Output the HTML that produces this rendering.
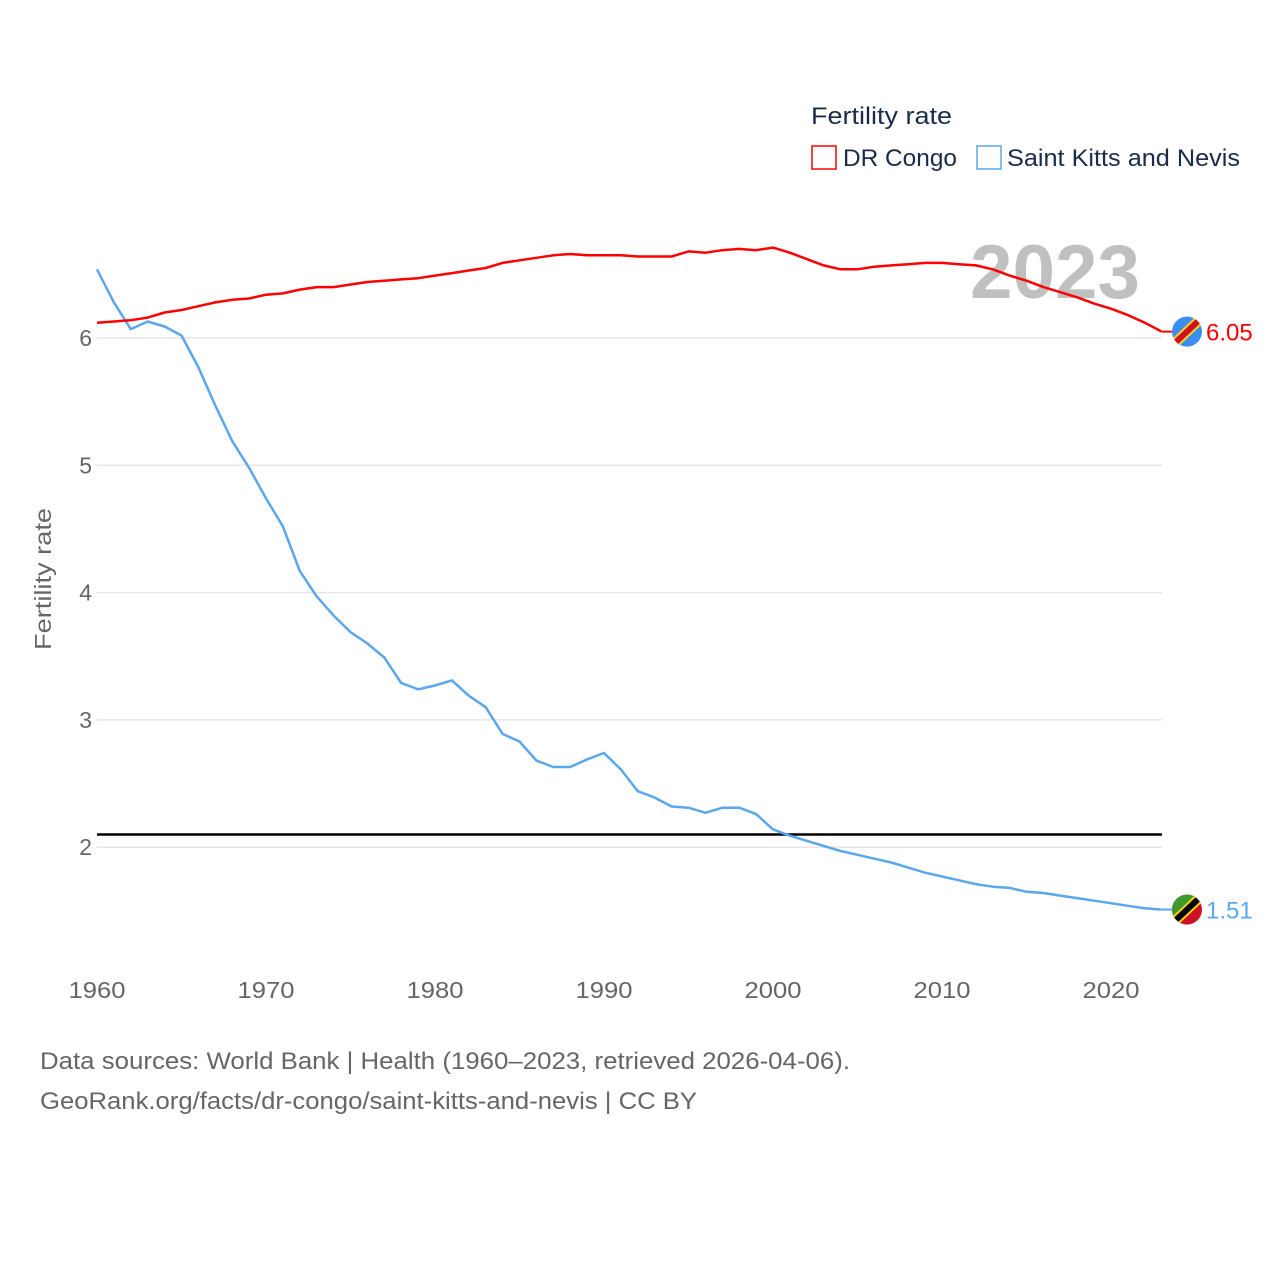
<!DOCTYPE html>
<html><head><meta charset="utf-8">
<style>
body{margin:0;background:#fff;font-family:"Liberation Sans",sans-serif;}
svg text{font-family:"Liberation Sans",sans-serif;}
</style></head>
<body>
<svg id="chart" width="1280" height="1280" viewBox="0 0 1280 1280" xmlns="http://www.w3.org/2000/svg">
<rect width="1280" height="1280" fill="#fff"/>
<g id="grid"></g>
<g id="yticks"></g>
<g id="xticks"></g>
<text x="1140" y="298" text-anchor="end" font-size="76" font-weight="bold" fill="#c0c0c0" textLength="170" lengthAdjust="spacingAndGlyphs">2023</text>
<text transform="translate(51,579) rotate(-90)" text-anchor="middle" font-size="23" fill="#666" textLength="142" lengthAdjust="spacingAndGlyphs">Fertility rate</text>
<g id="series"></g>
<g>
<text x="811" y="124" font-size="24" fill="#1a2b4a" textLength="141" lengthAdjust="spacingAndGlyphs">Fertility rate</text>
<rect x="812" y="146" width="24" height="23" fill="none" stroke="#ff0000" stroke-width="1.5"/>
<text x="843" y="166" font-size="24" fill="#1a2b4a" textLength="114" lengthAdjust="spacingAndGlyphs">DR Congo</text>
<rect x="977" y="146" width="24" height="23" fill="none" stroke="#5aa7ee" stroke-width="1.5"/>
<text x="1007" y="166" font-size="24" fill="#1a2b4a" textLength="233" lengthAdjust="spacingAndGlyphs">Saint Kitts and Nevis</text>
</g>
<g id="ends"></g>
<text x="40" y="1069" font-size="24" fill="#666" textLength="810" lengthAdjust="spacingAndGlyphs">Data sources: World Bank | Health (1960–2023, retrieved 2026-04-06).</text>
<text x="40" y="1109" font-size="24" fill="#666" textLength="657" lengthAdjust="spacingAndGlyphs">GeoRank.org/facts/dr-congo/saint-kitts-and-nevis | CC BY</text>
</svg>
<script>
const years = Array.from({length:64},(_,i)=>1960+i);
const drCongo = [6.12,6.13,6.14,6.16,6.20,6.22,6.25,6.28,6.30,6.31,6.34,6.35,6.38,6.40,6.40,6.42,6.44,6.45,6.46,6.47,6.49,6.51,6.53,6.55,6.59,6.61,6.63,6.65,6.66,6.65,6.65,6.65,6.64,6.64,6.64,6.68,6.67,6.69,6.70,6.69,6.71,6.67,6.62,6.57,6.54,6.54,6.56,6.57,6.58,6.59,6.59,6.58,6.57,6.54,6.49,6.45,6.40,6.36,6.32,6.27,6.23,6.18,6.12,6.05];
const stKitts = [6.54,6.28,6.07,6.13,6.09,6.02,5.77,5.47,5.19,4.98,4.74,4.52,4.17,3.97,3.82,3.69,3.60,3.49,3.29,3.24,3.27,3.31,3.19,3.10,2.89,2.83,2.68,2.63,2.63,2.69,2.74,2.61,2.44,2.39,2.32,2.31,2.27,2.31,2.31,2.26,2.14,2.09,2.05,2.01,1.97,1.94,1.91,1.88,1.84,1.80,1.77,1.74,1.71,1.69,1.68,1.65,1.64,1.62,1.60,1.58,1.56,1.54,1.52,1.51];
const yTicks = [2,3,4,5,6];
const xTicks = [1960,1970,1980,1990,2000,2010,2020];
const replacementRate = 2.1;
const NS="http://www.w3.org/2000/svg";
const X=y=>97+(y-1960)*16.9;
const Y=v=>338-(v-6)*127.3;
function mk(tag,attrs,parent){const e=document.createElementNS(NS,tag);for(const k in attrs)e.setAttribute(k,attrs[k]);parent.appendChild(e);return e;}
const grid=document.getElementById('grid'),yt=document.getElementById('yticks'),xt=document.getElementById('xticks'),ser=document.getElementById('series'),ends=document.getElementById('ends');
yTicks.forEach(t=>{
  const l=mk('line',{x1:97,x2:1162,y1:Y(t),y2:Y(t),stroke:'#e6e6e6','stroke-width':1.5},grid);
  
  
  const tx=mk('text',{x:92,y:Y(t)+8,'text-anchor':'end','font-size':23,fill:'#666'},yt);
  tx.textContent=t;
  
  
});
xTicks.forEach(t=>{
  const tx=mk('text',{x:X(t),y:998,'text-anchor':'middle','font-size':23,fill:'#666',textLength:57,lengthAdjust:'spacingAndGlyphs'},xt);
  tx.textContent=t;
  
  
});
const rl=mk('line',{x1:97,x2:1162,y1:Y(replacementRate),y2:Y(replacementRate),stroke:'#000','stroke-width':2.5},ser);


function line(vals,color,name){
  const d=vals.map((v,i)=>(i?'L':'M')+X(years[i]).toFixed(1)+','+Y(v).toFixed(1)).join(' ');
  const p=mk('path',{d:d,fill:'none',stroke:color,'stroke-width':2.5,'stroke-linejoin':'round'},ser);
  
  
}
line(stKitts,'#5aa7ee','line-saint-kitts');
line(drCongo,'#ff0000','line-dr-congo');
function endLabel(v,color,name,flag){
  const y=Y(v);
  const ln=mk('line',{x1:1162,x2:1172,y1:y,y2:y,stroke:color,'stroke-width':2},ends);
  
  
  const g=mk('g',{},ends);
  
  
  const id='clip'+name;
  const cp=mk('clipPath',{id:id},g);mk('circle',{cx:1187,cy:y,r:15},cp);
  const gg=mk('g',{'clip-path':'url(#'+id+')'},g);
  if(flag==='cd'){
    mk('rect',{x:1170,y:y-16,width:34,height:32,fill:'#3a8ef0'},gg);
    mk('line',{x1:1170,y1:y+16,x2:1204,y2:y-16,stroke:'#f7d618','stroke-width':10},gg);
    mk('line',{x1:1170,y1:y+16,x2:1204,y2:y-16,stroke:'#ce1021','stroke-width':6},gg);
  }else{
    mk('rect',{x:1170,y:y-16,width:34,height:32,fill:'#ce1126'},gg);
    mk('polygon',{points:`1170,${y-16} 1204,${y-16} 1170,${y+16}`,fill:'#3d9a2e'},gg);
    mk('line',{x1:1170,y1:y+16,x2:1204,y2:y-16,stroke:'#fcd116','stroke-width':10},gg);
    mk('line',{x1:1170,y1:y+16,x2:1204,y2:y-16,stroke:'#000','stroke-width':6},gg);
  }
  const t=mk('text',{x:1206,y:y+9,'font-size':24,fill:color},ends);
  t.textContent=v.toFixed(2);
  
  
}
endLabel(drCongo[drCongo.length-1],'#ff0000','dr-congo-end','cd');
endLabel(stKitts[stKitts.length-1],'#5aa7ee','saint-kitts-end','kn');
</script>
</body></html>
